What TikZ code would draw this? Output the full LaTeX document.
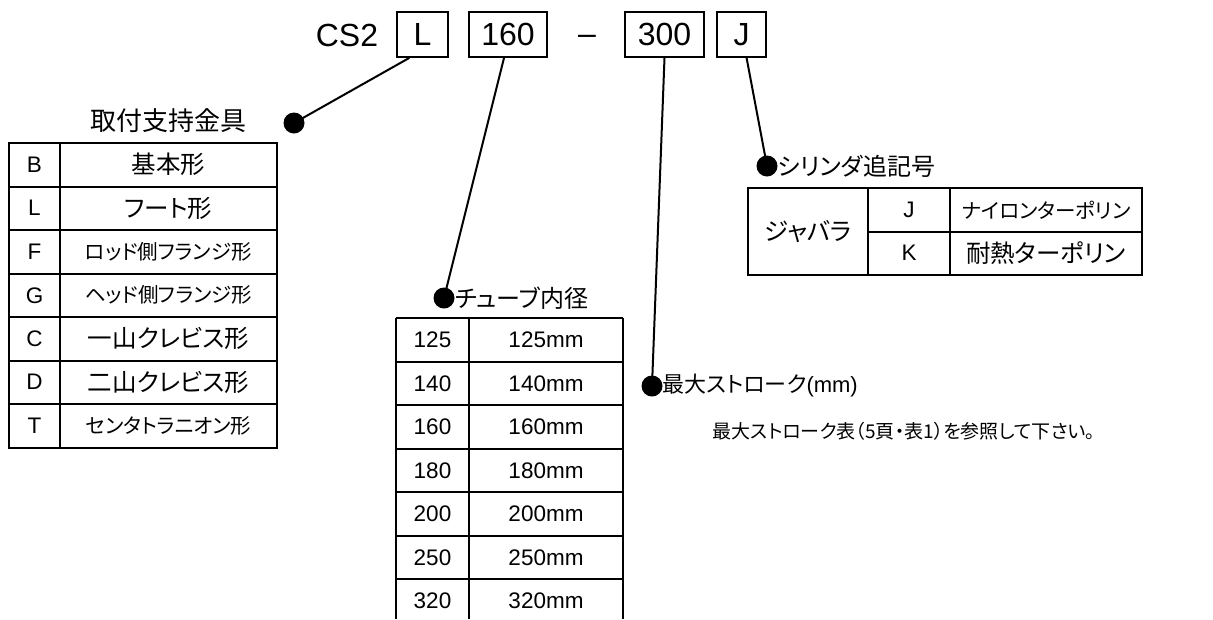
\documentclass[tikz,border=0pt]{standalone}
\usepackage{fontspec}
\usetikzlibrary{calc}
\setmainfont{Liberation Sans}
\newfontfamily\jp[CharacterWidth=AlternateProportional]{Noto Sans CJK JP}
\newcommand\hdrfont{\fontsize{32}{36}\selectfont}
\newcommand\lblfont{\fontsize{24}{28}\selectfont}
\newcommand\midfont{\fontsize{22}{26}\selectfont}
\newcommand\bigfont{\fontsize{26}{30}\selectfont}
\newcommand\tblfont{\fontsize{22.5}{26}\selectfont}
\newcommand\jtblfont{\fontsize{24.5}{28}\selectfont}
\newcommand\smlfont{\fontsize{20.5}{24}\selectfont}
\newcommand\notefont{\fontsize{19}{22}\selectfont}
\begin{document}
\begin{tikzpicture}[x=1pt,y=-1pt,
  hbox/.style={draw, line width=1.8pt, inner sep=0pt, font=\hdrfont, minimum height=45pt},
  dotn/.style={circle, fill=black, minimum size=21pt, inner sep=0pt},
  conn/.style={line width=2pt},
  gridl/.style={line width=2pt},
  cell/.style={inner sep=0pt, anchor=center},
  lbl/.style={inner sep=0pt, font=\lblfont\jp}]
\useasboundingbox (0,0) rectangle (1213,619);

% header
\node[inner sep=0pt, font=\hdrfont] (cs) at (347,35) {CS2};
\node[hbox, minimum width=51pt] (bL) at (422.5,34.5) {L};
\node[hbox, minimum width=78pt] (b160) at (508,34.5) {160};
\node[inner sep=0pt, font=\hdrfont] (dash) at (587,40) {–};
\node[hbox, minimum width=79pt] (b300) at (664.5,34.5) {300};
\node[hbox, minimum width=49pt] (bJ) at (741.5,34.5) {J};

% dots
\node[dotn] (d1) at (294,123) {};
\node[dotn] (d2) at (444,298) {};
\node[dotn] (d3) at (652,386) {};
\node[dotn] (d4) at (767,166) {};

\coordinate (sL) at ($(bL.south west)!0.25!(bL.south east)$);
\coordinate (s160) at ($(b160.south west)!0.45!(b160.south east)$);
\coordinate (s300) at (b300.south);
\coordinate (sJ) at ($(bJ.south west)!0.6!(bJ.south east)$);
\draw[conn] (sL) -- (d1.center);
\draw[conn] (s160) -- (d2.center);
\draw[conn] (s300) -- (d3.center);
\draw[conn] (sJ) -- (d4.center);

% labels
\node[inner sep=0pt, font=\bigfont\jp] (t1) at (168,121) {取付支持金具};
\node[lbl, anchor=west] (t2) at (d2.east) {チューブ内径};
\node[inner sep=0pt, anchor=west, font=\midfont] (t3) at (d3.east) {{\jp 最大ストローク}(mm)};
\node[lbl, anchor=west] (t4) at (d4.east) {シリンダ追記号};
\node[inner sep=0pt, font=\notefont\jp] (note) at (904,431) {最大ストローク表（5頁・表1）を参照して下さい。};

% left table
\draw[gridl] (9,143) rectangle (277,448);
\draw[gridl] (60,143) -- (60,448);
\foreach \k in {1,...,6} \draw[gridl] (9,{143+43.5*\k}) -- (277,{143+43.5*\k});
\foreach \i/\c/\t/\s in {0/B/基本形/0,1/L/フート形/0,2/F/ロッド側フランジ形/1,3/G/ヘッド側フランジ形/1,4/C/一山クレビス形/0,5/D/二山クレビス形/0,6/T/センタトラニオン形/1}{
  \node[cell, font=\tblfont] (lc\i) at (34.5,{143+43.5*(\i+0.5)}) {\c};
  \node[cell] (lt\i) at (168.5,{143+43.5*(\i+0.5)}) {\ifnum\s=1 \smlfont\else\jtblfont\fi\jp \t};
}

% middle table
\draw[gridl] (396,318) -- (396,619);
\draw[gridl] (469,318) -- (469,619);
\draw[gridl] (623,318) -- (623,619);
\foreach \k in {0,...,6} \draw[gridl] (396,{318+43.5*\k}) -- (623,{318+43.5*\k});
\foreach \i/\v in {0/125,1/140,2/160,3/180,4/200,5/250,6/320}{
  \node[cell, font=\tblfont] (mc\i) at (432.5,{318+43.5*(\i+0.5)}) {\v};
  \node[cell, font=\tblfont] (mt\i) at (546,{318+43.5*(\i+0.5)}) {\v mm};
}

% right table
\draw[gridl] (748,188) rectangle (1142,275);
\draw[gridl] (868,188) -- (868,275);
\draw[gridl] (950,188) -- (950,275);
\draw[gridl] (868,231.5) -- (1142,231.5);
\node[cell, font=\jtblfont\jp] (rg) at (808,231.5) {ジャバラ};
\node[cell, font=\tblfont] (rJ) at (909,210) {J};
\node[cell, font=\tblfont] (rK) at (909,253) {K};
\node[cell, font=\smlfont\jp] (rJt) at (1046,210) {ナイロンターポリン};
\node[cell, font=\jtblfont\jp] (rKt) at (1046,253) {耐熱ターポリン};
\end{tikzpicture}
\end{document}
